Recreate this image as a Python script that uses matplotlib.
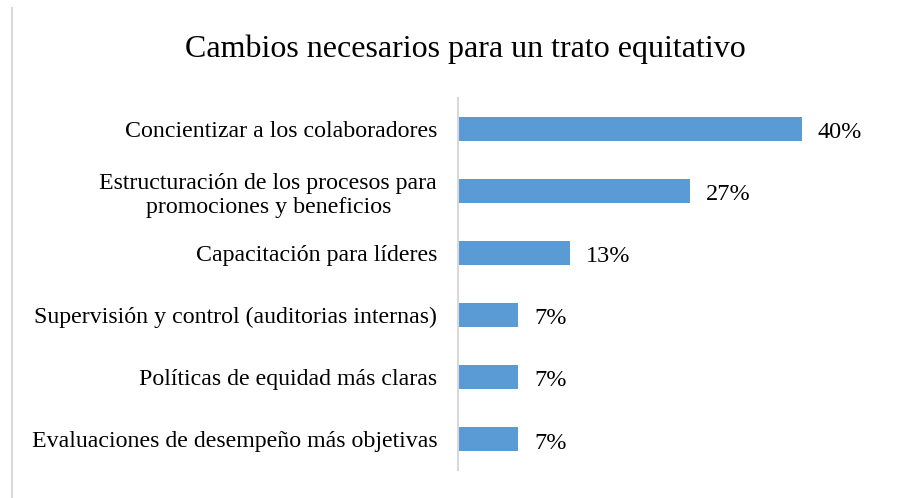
import matplotlib.pyplot as plt
from matplotlib.lines import Line2D

# data
categories = [
    "Concientizar a los colaboradores",
    "Estructuración de los procesos para\npromociones y beneficios",
    "Capacitación para líderes",
    "Supervisión y control (auditorias internas)",
    "Políticas de equidad más claras",
    "Evaluaciones de desempeño más objetivas",
]
values = [40, 27, 13, 7, 7, 7]
value_labels = ["40%", "27%", "13%", "7%", "7%", "7%"]

plt.rcParams['font.family'] = ['Liberation Serif', 'DejaVu Serif']

W, H = 908, 498
fig = plt.figure(figsize=(W / 100, H / 100), dpi=100)

# axes placed so the category axis sits at x=458 px, bars span y=98..470 px
left, right = 458 / W, 880 / W
bottom, top = 1 - 470 / H, 1 - 98 / H
ax = fig.add_axes([left, bottom, right - left, top - bottom])

y = list(range(len(categories)))
ax.barh(y, values, height=0.4, color='#5B9BD5', zorder=2)
ax.set_ylim(len(categories) - 0.5, -0.5)
ax.set_xlim(0, 422 / 8.6)

ax.set_yticks(y)
ax.set_yticklabels(categories, fontsize=17.2, multialignment='center',
                   linespacing=1.2)
ax.tick_params(axis='y', length=0, pad=15)
ax.set_xticks([])

for s in ['top', 'right', 'bottom']:
    ax.spines[s].set_visible(False)
ax.spines['left'].set_color('#d9d9d9')
ax.spines['left'].set_linewidth(1.5)

for yi, v, lab in zip(y, values, value_labels):
    ax.annotate(lab, (v, yi), xytext=(16, -4), textcoords='offset pixels',
                va='center', ha='left', fontsize=17.5)

fig.text(465 / W, 1 - 49 / H, "Cambios necesarios para un trato equitativo",
         ha='center', va='center', fontsize=23)

# light chart-area border on the left
fig.add_artist(Line2D([12 / W, 12 / W], [0, 1 - 8 / H], color='#d9d9d9', lw=1.5,
                      transform=fig.transFigure))

fig.savefig('out.png', dpi=100)
